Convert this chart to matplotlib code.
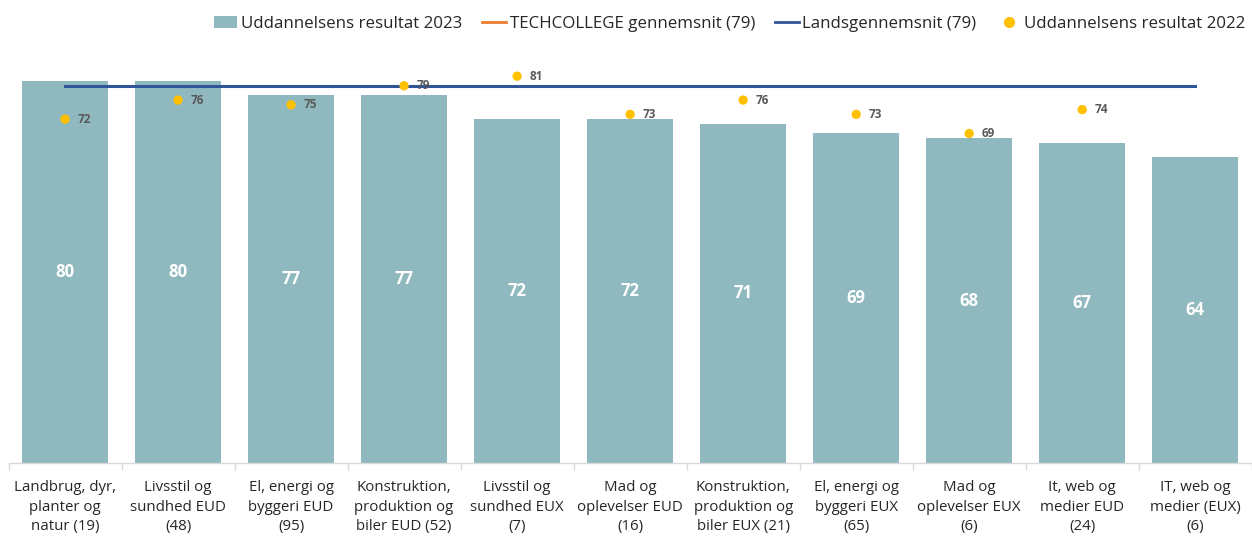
import matplotlib
matplotlib.use("Agg")
import matplotlib.pyplot as plt
from matplotlib.lines import Line2D
from matplotlib.patches import Patch
import numpy as np

categories = ["Landbrug, dyr,\nplanter og\nnatur (19)", "Livsstil og\nsundhed EUD\n(48)",
              "El, energi og\nbyggeri EUD\n(95)", "Konstruktion,\nproduktion og\nbiler EUD (52)",
              "Livsstil og\nsundhed EUX\n(7)", "Mad og\noplevelser EUD\n(16)",
              "Konstruktion,\nproduktion og\nbiler EUX (21)", "El, energi og\nbyggeri EUX\n(65)",
              "Mad og\noplevelser EUX\n(6)", "It, web og\nmedier EUD\n(24)", "IT, web og\nmedier (EUX)\n(6)"]
result_2023 = [80, 80, 77, 77, 72, 72, 71, 69, 68, 67, 64]
result_2022 = [72, 76, 75, 79, 81, 73, 76, 73, 69, 74, None]
techcollege_avg = 79
lands_avg = 79

plt.rcParams['font.family'] = ['Open Sans', 'DejaVu Sans']

fig = plt.figure(figsize=(12.52, 5.37), dpi=100)
ax = fig.add_axes([0.0068, 0.138, 0.993, 0.769])

x = np.arange(len(categories))
ax.bar(x, result_2023, width=0.76, color="#8FB9BF", zorder=2)
for xi, v in zip(x, result_2023):
    ax.text(xi, v / 2, f"{v}", ha="center", va="center", color="white",
            fontsize=12, fontweight="bold", zorder=5)

ax.plot(x, [techcollege_avg] * len(x), color="#ED7D31", lw=2, zorder=3)
ax.plot(x, [lands_avg] * len(x), color="#2F5597", lw=2.2, zorder=4)

xs = [xi for xi, v in zip(x, result_2022) if v is not None]
ys = [v for v in result_2022 if v is not None]
ax.scatter(xs, ys, s=45, color="#FFC000", zorder=6, edgecolors="none")
for xi, v in zip(xs, ys):
    ax.annotate(f"{v}", (xi, v), xytext=(9, 0), textcoords="offset points",
                ha="left", va="center", fontsize=8.5, fontweight="bold",
                color="#595959", zorder=7)

ax.set_xlim(-0.5, len(x) - 0.5)
ax.set_ylim(0, 86.5)
ax.set_yticks([])
for s in ["top", "right", "left"]:
    ax.spines[s].set_visible(False)
ax.spines["bottom"].set_color("#D9D9D9")
ax.spines["bottom"].set_linewidth(1)

ax.set_xticks(x)
ax.set_xticklabels(categories, fontsize=10.8, color="#262626", linespacing=1.45)
ax.tick_params(axis="x", which="major", length=0, pad=12)
ax.set_xticks(np.arange(-0.5, len(x) + 0.5, 1), minor=True)
ax.tick_params(axis="x", which="minor", length=5, color="#D9D9D9", width=1)

handles = [Patch(facecolor="#8FB9BF", edgecolor="none"),
           Line2D([], [], color="#ED7D31", lw=2),
           Line2D([], [], color="#2F5597", lw=2),
           Line2D([], [], color="#FFC000", marker="o", lw=0, markersize=7)]
labels = ["Uddannelsens resultat 2023", "TECHCOLLEGE gennemsnit (79)",
          "Landsgennemsnit (79)", "Uddannelsens resultat 2022"]
fig.legend(handles, labels, loc="center right", bbox_to_anchor=(1.0, 0.955), ncol=4,
           frameon=False, fontsize=12.2, handlelength=1.4, handletextpad=0.2,
           columnspacing=1.2, labelcolor="#262626", borderaxespad=0.0)

fig.savefig("out.png", dpi=100)
